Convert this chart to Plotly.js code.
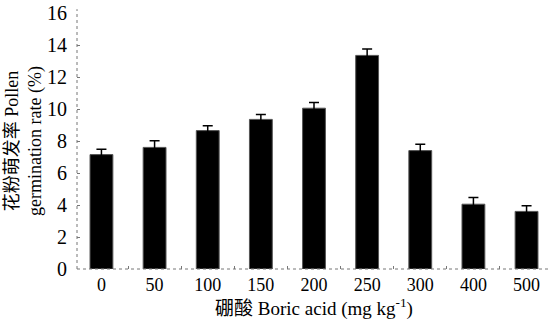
<!DOCTYPE html>
<html>
<head>
<meta charset="utf-8">
<script src="https://cdn.plot.ly/plotly-3.0.1.min.js"></script>
<style>html,body{margin:0;padding:0;background:#fff;}#chart{width:552px;height:325px;}</style>
</head>
<body>
<div id="chart"></div>
<script>
const categories = ["0", "50", "100", "150", "200", "250", "300", "400", "500"];
const germinationRate = [7.15, 7.6, 8.65, 9.35, 10.05, 13.35, 7.4, 4.05, 3.6];
const errorValues = [0.33, 0.42, 0.3, 0.31, 0.36, 0.4, 0.4, 0.42, 0.35];
const yTickValues = [0, 2, 4, 6, 8, 10, 12, 14, 16];

const fontFamily = "Liberation Serif, Noto Sans CJK SC, serif";

const trace = {
  type: "bar",
  x: categories,
  y: germinationRate,
  marker: { color: "#000000", line: { color: "#555555", width: 1 } },
  error_y: { type: "data", array: errorValues, visible: true, color: "#000000", thickness: 1.5, width: 5 },
  hoverinfo: "skip"
};

const layout = {
  width: 552,
  height: 325,
  margin: { l: 77, r: 1, t: 13, b: 56 },
  paper_bgcolor: "#ffffff",
  plot_bgcolor: "#ffffff",
  showlegend: false,
  bargap: 0.57,
  font: { family: fontFamily, color: "#000000" },
  xaxis: {
    type: "category",
    range: [-0.46, 8.46],
    showline: false,
    showgrid: false,
    zeroline: false,
    ticks: "inside",
    tickson: "boundaries",
    ticklen: 3,
    tickcolor: "#777777",
    tickwidth: 1,
    ticklabelstandoff: 3,
    tickfont: { family: fontFamily, size: 18, color: "#000000" },
    title: { text: "硼酸 Boric acid (mg kg<sup>-1</sup>)", font: { family: fontFamily, size: 19, color: "#000000" }, standoff: 0 }
  },
  yaxis: {
    range: [0, 16],
    tickvals: yTickValues,
    ticktext: yTickValues.map(String),
    showline: false,
    showgrid: false,
    zeroline: false,
    ticks: "inside",
    ticklen: 3,
    tickcolor: "#777777",
    tickwidth: 1,
    ticklabelstandoff: 9,
    tickfont: { family: fontFamily, size: 20, color: "#000000" },
    title: { text: "花粉萌发率 Pollen<br>germination rate (%)", font: { family: fontFamily, size: 18, color: "#000000" }, standoff: 0 }
  },
  shapes: [
    { type: "line", xref: "paper", yref: "paper", x0: 0, x1: 0, y0: 0, y1: 1.015, line: { color: "#777777", width: 1, dash: "dot" } },
    { type: "line", xref: "paper", yref: "paper", x0: 0, x1: 1, y0: 0, y1: 0, line: { color: "#777777", width: 1, dash: "dot" } }
  ]
};

Plotly.newPlot("chart", [trace], layout, { displayModeBar: false, staticPlot: true });
</script>
</body>
</html>
